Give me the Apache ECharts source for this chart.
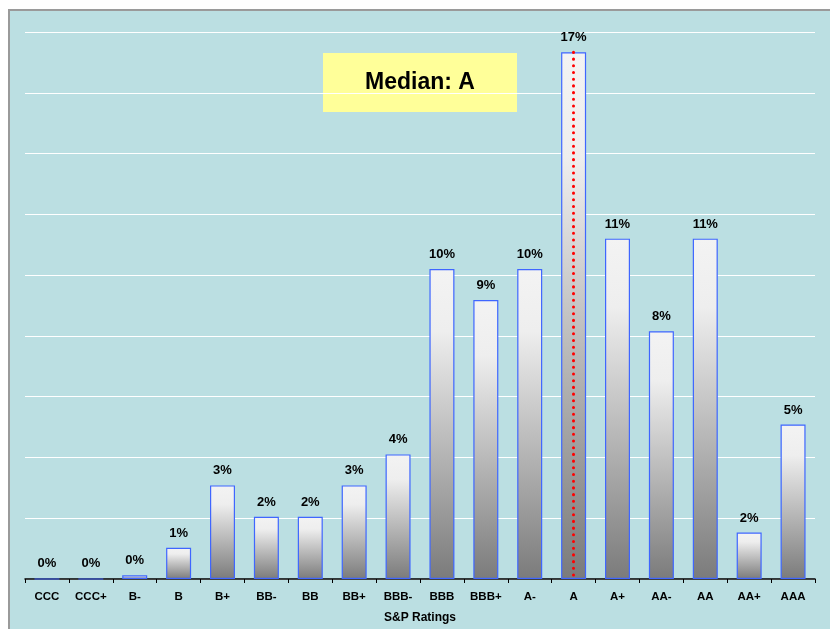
<!DOCTYPE html>
<html>
<head>
<meta charset="utf-8">
<script src="https://cdn.jsdelivr.net/npm/echarts@6/dist/echarts.min.js"></script>
<style>
html,body{margin:0;padding:0;background:#fff;}
#chart{width:830px;height:629px;}
</style>
</head>
<body>
<div id="chart"></div>
<script>
const categories = ['CCC','CCC+','B-','B','B+','BB-','BB','BB+','BBB-','BBB','BBB+','A-','A','A+','AA-','AA','AA+','AAA'];
const shares = [0, 0, 0.12, 1.03, 3.08, 2.05, 2.05, 3.08, 4.1, 10.2, 9.18, 10.2, 17.33, 11.2, 8.15, 11.2, 1.53, 5.08];
const medianCategory = 'A';
const medianValue = 17.33;
const axisName = 'S&P Ratings';
const medianText = 'Median: A';

const chart = echarts.init(document.getElementById('chart'), null, {renderer:'canvas'});
const font = 'Arial, "Liberation Sans", sans-serif';
chart.setOption({
  backgroundColor: '#ffffff',
  animation: false,
  graphic: [
    {type:'rect', z:-20, shape:{x:9, y:10, width:822, height:620}, style:{fill:'#BBDFE2', stroke:'#9a9a9a', lineWidth:2}},
    {type:'rect', z:-10, shape:{x:323, y:53, width:194, height:59}, style:{fill:'#FFFF99'}},
    {type:'text', z:10, x:420, y:83, style:{text:medianText, font:'bold 23px ' + font, fill:'#000', align:'center', verticalAlign:'middle'}}
  ],
  grid: {left:25, right:15, top:32, bottom:49, containLabel:false},
  xAxis: {
    type:'category', data: categories,
    name: axisName, nameLocation:'middle', nameGap:33,
    nameTextStyle:{fontFamily:font, fontWeight:'bold', fontSize:12, color:'#000'},
    axisLine:{lineStyle:{color:'#000', width:1.5}},
    axisTick:{show:true, length:4, lineStyle:{color:'#000'}},
    axisLabel:{fontFamily:font, fontWeight:'bold', fontSize:11.5, color:'#000', margin:12, interval:0},
    splitLine:{show:false}
  },
  yAxis: {
    type:'value', min:0, max:18, interval:2,
    axisLine:{show:false}, axisTick:{show:false}, axisLabel:{show:false},
    splitLine:{lineStyle:{color:'#ffffff', width:1.2}}
  },
  series: [{
    type:'bar', data: shares, barWidth:25,
    itemStyle:{
      borderColor:'#3F66FF', borderWidth:1.2,
      color: new echarts.graphic.LinearGradient(0,0,0,1,[
        {offset:0, color:'#F3F3F3'},
        {offset:0.2, color:'#EEEEEE'},
        {offset:1, color:'#7B7B7B'}
      ])
    },
    label:{show:true, position:'top', distance:8, fontFamily:font, fontWeight:'bold', fontSize:13, color:'#000',
      formatter: p => Math.round(p.value) + '%'},
    markLine:{
      symbol:['none','none'], silent:true, label:{show:false},
      lineStyle:{color:'#FF0000', width:3, type:[0.1,6.6], cap:'round'},
      data:[[{coord:[medianCategory, medianValue]},{coord:[medianCategory, 0]}]]
    }
  }]
});
</script>
</body>
</html>
